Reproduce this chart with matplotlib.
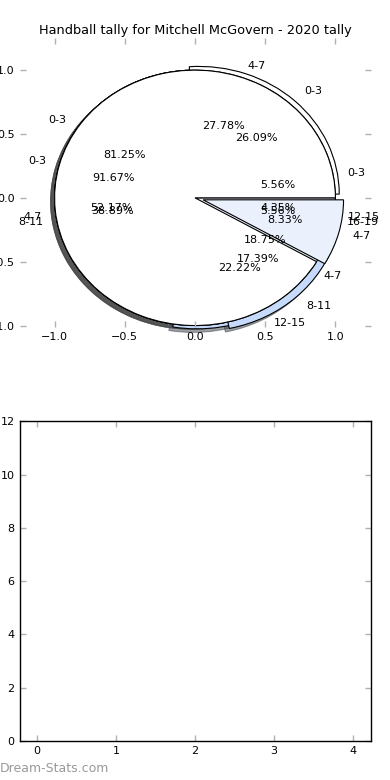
import matplotlib
matplotlib.use('Agg')
import numpy as np
from matplotlib import pyplot as plt

# tallies per age group, one pie per block of games
labels_a = ['0-3', '4-7']
tally_a = [13, 3]
labels_b = ['0-3', '4-7']
tally_b = [11, 1]
labels_c = ['0-3', '4-7', '8-11', '12-15', '16-19']
tally_c = [1, 5, 7, 4, 1]
labels_d = ['0-3', '4-7', '8-11', '12-15']
tally_d = [6, 12, 4, 1]

explode_a = [0, 0]
explode_b = [0, 0.06]
explode_c = [0, 0, 0, 0.03, 0]
explode_d = [0.04, 0, 0.06, 0]

palette = ['#ffffff', '#eaf1fd', '#c6dbfc', '#c6dbfc', '#c6dbfc']

title = 'Handball tally for Mitchell McGovern - 2020 tally'
pie_ticks = [-1.0, -0.5, 0.0, 0.5, 1.0]
bar_xticks = [0, 1, 2, 3, 4]
bar_yticks = [0, 2, 4, 6, 8, 10, 12]

plt.rcParams['font.family'] = ['DejaVu Sans']
plt.rcParams['font.size'] = 8

fig = plt.figure(figsize=(3.9, 7.8), dpi=100)
ax = fig.add_axes([0.05, 0.581, 0.9, 0.37])
ax2 = fig.add_axes([0.05, 0.05, 0.9, 0.41])

pies = [(tally_c, labels_c, explode_c),
        (tally_d, labels_d, explode_d),
        (tally_a, labels_a, explode_a),
        (tally_b, labels_b, explode_b)]

for vals, labs, expl in pies:
    wedges, texts, autotexts = ax.pie(vals, labels=labs, explode=expl,
                                      autopct='%1.2f%%', shadow=True,
                                      colors=palette[:len(vals)],
                                      wedgeprops={'edgecolor': 'black', 'linewidth': 0.8},
                                      textprops={'fontsize': 8})
    for p in ax.patches:
        p.set_clip_on(False)

ax.set_aspect('auto')
ax.set_frame_on(False)
ax.set_xlim(-1.25, 1.25)
ax.set_ylim(-1.01, 1.25)
ax.set_xticks(pie_ticks)
ax.set_yticks(pie_ticks)
ax.set_xticklabels(['\u22121.0', '\u22120.5', '0.0', '0.5', '1.0'])
ax.set_yticklabels(['\u22121.0', '\u22120.5', '0.0', '0.5', '1.0'])
ax.tick_params(direction='in', color='#b0b0b0', labelcolor='black',
               top=True, right=True, length=4, width=1, labelsize=8)
ax.set_title(title, fontsize=9.3, pad=3)

# empty bar panel underneath
ax2.set_xlim(-0.22, 4.22)
ax2.set_ylim(0, 12)
ax2.set_xticks(bar_xticks)
ax2.set_yticks(bar_yticks)
ax2.tick_params(direction='in', color='#b0b0b0', labelcolor='black',
                top=True, right=True, length=4, width=1, labelsize=8)
for s in ax2.spines.values():
    s.set_linewidth(1.0)

fig.text(0.0, 0.01, 'Dream-Stats.com', color='#999999', fontsize=9)

fig.savefig('out.png', dpi=100)
